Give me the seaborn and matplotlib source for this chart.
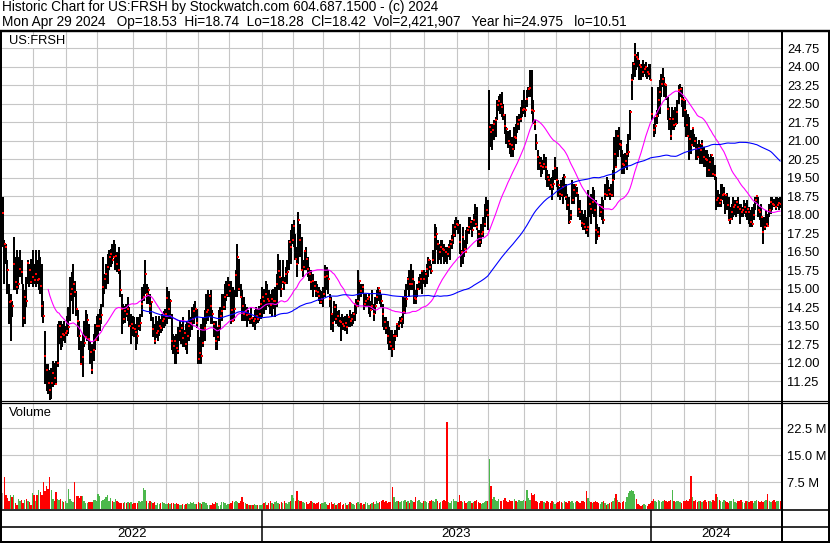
import numpy as np
import pandas as pd
import matplotlib
matplotlib.use("Agg")
import matplotlib.pyplot as plt
import seaborn as sns
from pandas.tseries.holiday import USFederalHolidayCalendar

# daily bars for US:FRSH, 3 May 2022 .. 29 Apr 2024 (one row per month)
high = [
    18.72, 16.97, 16.83, 16.16, 15.21, 14.80, 14.53, 17.10, 16.29, 16.56, 16.29, 16.56, 16.16, 15.21, 14.94, 15.48, 16.16, 16.02, 16.22, 16.56,
    16.02, 16.56, 16.16, 16.56, 16.30, 16.02, 14.50, 13.30, 11.97, 11.97, 11.70, 11.80, 12.10, 12.00, 12.10, 13.59, 13.72, 13.72, 13.59, 13.72, 13.50,
    13.90, 14.26, 15.48, 15.70, 16.02, 15.34, 14.90, 14.13, 13.72, 12.91, 13.18, 13.72, 14.13, 13.99, 13.59, 12.91, 12.78, 13.18, 13.59, 13.90,
    13.99, 14.20, 14.40, 16.29, 15.61, 16.00, 16.43, 16.56, 16.60, 16.83, 16.97, 16.83, 16.50, 16.70, 15.75, 14.80, 14.40, 14.30, 14.40, 14.67, 14.26, 13.99, 13.90,
    13.86, 13.59, 13.86, 13.86, 14.00, 15.07, 15.21, 16.16, 15.21, 15.07, 14.80, 14.53, 13.86, 13.59, 13.90, 13.70, 13.90, 13.80, 14.00, 14.10, 14.20,
    15.07, 14.90, 14.60, 13.99, 13.18, 13.11, 13.18, 13.45, 13.72, 13.59, 13.86, 13.32, 13.59, 13.72, 14.13, 13.86, 14.26, 14.40, 14.53, 14.20,
    13.32, 13.05, 13.59, 13.86, 14.13, 14.80, 14.94, 14.80, 14.94, 14.13, 13.72, 13.72, 13.45, 14.13, 14.26, 14.80, 14.80, 15.21, 15.34, 15.48,
    15.34, 15.34, 15.07, 14.94, 15.75, 16.83, 16.20, 15.21, 14.94, 14.67, 14.40, 14.26, 14.13, 13.99, 14.26, 13.86, 14.13, 14.26, 14.20, 14.30, 14.60,
    15.07, 15.00, 15.34, 15.20, 14.94, 14.80, 14.94, 15.00, 15.07, 15.61, 16.43, 16.16, 15.48, 16.16, 15.48, 15.89, 16.16, 16.97, 17.37, 17.64,
    17.78, 17.24, 16.70, 18.12, 17.64, 17.10, 16.16, 16.56, 16.70, 16.29, 15.89, 15.75, 15.61, 15.34, 15.34, 15.21, 15.07, 14.94, 14.90,
    15.07, 15.95, 15.89, 15.75, 14.80, 14.67, 13.99, 14.53, 14.40, 14.10, 14.13, 13.86, 13.99, 13.86, 13.90, 13.99, 13.86, 14.13, 14.00, 14.06, 14.40, 14.60, 15.75,
    15.34, 15.21, 15.21, 14.80, 14.80, 14.67, 14.80, 14.53, 14.94, 14.40, 14.67, 14.94, 15.07, 14.94, 14.80, 14.40, 13.86, 13.86, 13.72, 13.45,
    13.32, 13.32, 13.18, 13.32, 13.59, 13.72, 13.86, 13.90, 14.67, 14.94, 15.21, 15.48, 15.75, 16.02, 15.75, 15.34, 14.94, 15.21, 15.48, 15.60, 15.75, 15.75,
    15.70, 16.02, 16.29, 16.16, 16.02, 16.56, 17.64, 17.51, 16.97, 16.83, 16.97, 16.97, 16.83, 16.70, 16.70, 16.83, 16.97, 17.20, 17.64, 17.78, 17.91,
    17.78, 17.64, 16.56, 17.51, 16.97, 17.37, 17.51, 17.91, 17.91, 17.78, 18.05, 18.45, 18.32, 17.37, 17.37, 17.64, 17.91, 18.45, 18.72, 18.59,
    23.05, 21.70, 21.70, 21.83, 21.97, 22.64, 22.80, 22.91, 22.98, 22.51, 22.10, 21.56, 21.40, 21.43, 21.16, 21.16, 21.56, 21.70, 22.00, 22.10, 22.37, 22.64, 23.05,
    22.64, 23.05, 23.18, 23.86, 23.86, 22.64, 21.83, 21.29, 20.61, 20.40, 20.35, 20.21, 20.48, 20.35, 19.80, 19.67, 19.50, 19.53, 19.80, 20.35,
    19.94, 19.40, 19.13, 19.40, 19.53, 19.67, 19.26, 18.86, 18.72, 18.18, 19.40, 19.26, 19.26, 19.13, 18.86, 18.59, 18.18, 18.05, 18.18, 17.91, 18.99,
    18.72, 18.86, 19.13, 18.99, 18.59, 17.64, 17.51, 18.45, 18.72, 18.59, 19.26, 19.53, 19.40, 19.13, 19.26, 19.80, 21.16, 21.43, 21.43, 21.56,
    21.02, 20.61, 20.48, 20.50, 20.89, 21.29, 22.24, 23.72, 24.20, 24.97, 24.53, 24.60, 24.26, 24.13, 24.26, 24.13, 24.20, 24.00, 24.13, 24.13,
    23.18, 21.70, 21.97, 22.24, 23.18, 23.45, 23.72, 23.93, 23.59, 23.32, 22.78, 22.37, 21.97, 22.37, 22.24, 22.37, 22.64, 23.25, 23.32, 23.18, 22.78,
    22.64, 22.24, 22.10, 21.97, 21.43, 21.56, 21.29, 21.16, 20.89, 21.02, 20.89, 21.02, 20.75, 20.61, 20.61, 20.48, 20.35, 20.48, 20.35, 20.00,
    19.53, 19.00, 18.86, 19.26, 19.26, 19.13, 18.86, 18.90, 18.72, 18.32, 18.45, 18.72, 18.60, 18.59, 18.72, 18.45, 18.45, 18.32, 18.59, 18.50, 18.59,
    18.32, 18.18, 18.32, 18.45, 18.72, 18.79, 18.72, 18.32, 18.45, 17.91, 17.91, 18.18, 18.05, 18.45, 18.72, 18.72, 18.65, 18.72, 18.72, 18.70, 18.74,
]
low = [
    16.70, 15.21, 16.02, 14.80, 13.59, 12.91, 13.86, 14.94, 14.94, 14.80, 15.01, 15.48, 15.21, 13.45, 13.59, 14.26, 15.21, 15.07, 15.21, 15.07,
    15.21, 15.07, 15.21, 14.94, 14.80, 13.86, 13.60, 11.16, 10.88, 10.75, 10.51, 10.55, 11.02, 11.10, 11.13, 11.82, 12.78, 12.51, 12.64, 12.91, 12.80,
    13.10, 13.18, 13.72, 14.50, 13.99, 14.67, 13.90, 13.05, 12.51, 11.97, 11.43, 12.64, 13.05, 12.91, 12.51, 11.97, 11.56, 12.10, 12.51, 12.90,
    12.91, 13.30, 13.59, 14.26, 14.80, 15.00, 15.21, 15.75, 15.90, 16.02, 16.29, 15.75, 15.70, 15.61, 14.67, 13.18, 13.59, 13.60, 13.86, 13.72, 13.45, 12.78, 13.10,
    13.05, 12.51, 12.78, 13.32, 13.30, 13.86, 14.53, 14.80, 14.40, 14.40, 13.99, 13.72, 13.05, 12.78, 13.00, 12.90, 13.10, 13.20, 13.30, 13.40, 13.50,
    13.59, 13.80, 13.80, 12.51, 12.37, 11.97, 11.97, 12.37, 12.91, 12.78, 12.64, 12.64, 12.51, 12.37, 12.91, 13.05, 13.32, 13.59, 13.86, 13.40,
    11.97, 11.97, 11.97, 12.64, 12.91, 13.59, 13.72, 13.86, 13.59, 13.59, 13.05, 12.51, 12.51, 12.91, 13.32, 13.72, 14.13, 14.13, 14.53, 14.67,
    14.67, 13.59, 13.72, 13.72, 14.67, 14.67, 14.90, 14.67, 13.72, 13.72, 13.72, 13.45, 13.72, 13.59, 13.59, 13.45, 13.32, 13.59, 13.60, 13.70, 13.80,
    13.86, 14.00, 14.13, 14.30, 14.26, 13.99, 13.86, 14.20, 13.86, 14.26, 14.94, 14.94, 14.67, 15.21, 14.94, 15.21, 15.21, 15.75, 16.02, 16.83,
    16.70, 16.16, 15.48, 16.02, 16.29, 15.75, 15.48, 15.75, 15.75, 15.48, 15.34, 14.94, 14.67, 14.94, 14.67, 14.67, 14.53, 14.40, 14.40,
    14.26, 14.67, 14.94, 14.80, 14.26, 13.32, 13.25, 13.72, 13.59, 13.50, 13.45, 12.91, 13.32, 13.32, 13.30, 13.18, 13.45, 13.45, 13.50, 13.59, 13.72, 14.00, 14.26,
    14.53, 14.67, 14.80, 14.13, 14.26, 14.26, 13.99, 13.86, 14.13, 13.72, 13.99, 14.40, 14.53, 14.40, 14.26, 13.45, 13.32, 13.18, 12.78, 12.51,
    12.51, 12.24, 12.51, 12.91, 13.05, 13.32, 13.59, 13.40, 13.59, 13.99, 14.26, 14.94, 14.67, 14.94, 14.94, 14.40, 14.40, 14.67, 14.94, 15.00, 14.80, 15.21,
    15.07, 15.21, 15.48, 15.75, 15.61, 16.02, 16.02, 16.56, 16.02, 16.16, 16.02, 16.29, 16.02, 16.10, 16.02, 16.29, 16.16, 16.60, 16.83, 17.10, 17.37,
    17.24, 16.43, 15.89, 16.02, 16.29, 16.56, 16.83, 17.24, 17.37, 17.10, 17.51, 17.51, 17.37, 16.70, 16.70, 16.83, 17.10, 17.51, 17.91, 17.37,
    19.80, 20.75, 20.61, 21.02, 21.16, 21.83, 22.20, 22.10, 21.97, 21.83, 21.29, 20.89, 20.70, 20.48, 20.35, 20.35, 20.61, 20.89, 21.30, 21.43, 21.76, 21.97, 22.10,
    21.97, 22.37, 22.78, 22.78, 22.10, 21.70, 21.43, 20.61, 19.80, 19.80, 19.53, 19.67, 19.80, 19.40, 19.13, 19.13, 19.00, 18.59, 18.99, 19.40,
    19.13, 18.72, 18.59, 18.72, 18.45, 18.72, 18.59, 18.18, 17.64, 17.78, 18.45, 18.45, 18.72, 18.72, 17.91, 17.78, 17.51, 17.37, 17.37, 17.24, 17.10,
    17.91, 17.64, 18.05, 17.91, 16.83, 16.97, 17.10, 17.91, 17.78, 17.64, 18.59, 18.72, 18.72, 18.59, 18.72, 18.72, 19.40, 19.94, 20.35, 20.61,
    20.35, 19.67, 19.67, 19.90, 19.80, 20.35, 21.02, 22.64, 23.45, 23.59, 23.86, 24.00, 23.45, 23.45, 23.59, 23.72, 23.59, 23.50, 23.59, 23.45,
    21.83, 21.16, 21.29, 21.70, 21.97, 22.10, 22.78, 23.18, 22.78, 22.64, 21.83, 21.43, 21.02, 21.43, 21.43, 21.56, 21.70, 22.51, 22.78, 22.37, 21.97,
    21.56, 21.16, 21.16, 20.21, 20.48, 20.89, 20.75, 20.21, 20.21, 20.35, 20.07, 20.07, 19.94, 19.94, 19.53, 19.53, 19.53, 19.53, 19.53, 19.40,
    18.18, 18.30, 18.32, 18.32, 18.59, 18.45, 18.05, 18.20, 17.78, 17.64, 17.78, 17.91, 18.00, 17.91, 18.05, 17.64, 17.91, 17.91, 18.05, 17.90, 17.78,
    17.64, 17.51, 17.51, 17.78, 18.18, 18.45, 17.91, 17.78, 17.51, 16.83, 17.37, 17.51, 17.51, 17.91, 18.05, 18.18, 18.32, 18.18, 18.32, 18.20, 18.28,
]
close = [
    18.07, 16.83, 16.70, 15.75, 14.47, 14.51, 14.30, 16.02, 15.28, 15.07, 15.20, 15.82, 15.68, 13.83, 14.67, 14.51, 16.06, 15.75, 15.28, 15.48,
    15.35, 15.60, 15.35, 15.40, 15.10, 14.30, 13.90, 12.30, 11.70, 11.18, 10.89, 11.20, 11.60, 11.40, 11.15, 11.99, 13.48, 13.05, 13.18, 13.14, 13.20,
    13.30, 13.45, 14.80, 15.00, 15.21, 14.87, 14.20, 13.72, 13.11, 11.97, 12.24, 12.80, 13.05, 13.75, 12.98, 12.44, 11.70, 12.51, 12.95, 13.50,
    13.51, 13.80, 13.93, 15.07, 15.41, 15.60, 15.89, 16.29, 16.40, 16.16, 16.29, 16.33, 16.00, 15.78, 14.94, 14.18, 13.80, 14.10, 13.99, 14.20, 13.48, 13.59, 13.40,
    13.39, 13.25, 13.10, 13.50, 13.60, 14.40, 14.67, 15.61, 14.80, 14.94, 14.30, 14.47, 13.39, 12.91, 13.20, 13.30, 13.50, 13.40, 13.70, 13.80, 14.00,
    14.63, 14.20, 14.50, 12.90, 12.70, 12.91, 12.60, 12.48, 13.30, 13.41, 13.00, 13.21, 12.78, 13.10, 13.50, 13.63, 13.80, 14.10, 14.20, 13.60,
    12.17, 12.40, 12.30, 12.80, 13.40, 14.06, 14.16, 14.70, 14.30, 14.00, 13.56, 12.91, 13.05, 13.50, 13.89, 14.10, 14.26, 14.67, 14.74, 15.14,
    14.90, 14.13, 13.72, 14.20, 15.56, 16.30, 15.01, 14.67, 14.30, 14.00, 14.10, 13.93, 14.00, 13.80, 13.83, 13.70, 13.78, 13.90, 13.80, 14.00, 14.40,
    14.67, 14.50, 14.80, 14.60, 14.50, 14.33, 14.60, 14.50, 14.53, 15.20, 15.71, 15.50, 15.01, 15.27, 15.24, 15.60, 15.68, 16.89, 16.70, 16.97,
    17.56, 16.22, 16.00, 17.78, 17.00, 15.78, 15.90, 16.53, 16.20, 15.79, 15.60, 15.28, 15.32, 15.10, 14.90, 14.87, 14.70, 14.47, 14.60,
    14.80, 15.48, 15.52, 15.41, 14.60, 13.99, 13.60, 14.26, 13.80, 13.90, 13.72, 13.68, 13.59, 13.50, 13.60, 13.45, 13.86, 13.70, 13.80, 13.99, 14.40, 14.30, 14.53,
    15.33, 14.90, 15.06, 14.40, 14.50, 14.60, 14.67, 14.13, 14.30, 13.99, 14.30, 14.67, 15.03, 14.90, 14.50, 13.99, 13.66, 13.40, 13.10, 12.85,
    12.70, 12.58, 13.09, 13.10, 13.59, 13.50, 13.70, 13.80, 14.06, 14.67, 14.59, 15.41, 15.20, 15.21, 15.40, 14.63, 14.60, 15.00, 15.30, 15.40, 15.71, 15.41,
    15.61, 15.80, 16.16, 15.90, 15.72, 16.16, 17.10, 17.24, 16.83, 16.50, 16.70, 16.60, 16.56, 16.50, 16.40, 16.70, 16.80, 17.00, 17.20, 17.51, 17.64,
    17.57, 16.90, 16.49, 17.10, 16.63, 16.49, 17.37, 17.51, 17.71, 17.40, 17.80, 17.64, 17.51, 17.24, 16.90, 17.24, 17.30, 17.64, 18.18, 18.00,
    21.56, 21.36, 21.43, 21.70, 21.86, 22.44, 22.60, 22.51, 22.37, 22.03, 21.60, 21.47, 21.00, 20.89, 20.82, 20.66, 21.16, 21.13, 21.70, 21.83, 21.90, 22.24, 22.30,
    22.24, 22.70, 23.10, 23.12, 22.24, 22.20, 21.70, 20.91, 20.35, 20.10, 19.97, 19.94, 20.05, 19.94, 19.53, 19.40, 19.20, 19.13, 19.26, 19.91,
    19.40, 19.20, 18.86, 18.82, 19.13, 19.53, 18.72, 18.40, 17.71, 18.00, 18.59, 18.99, 19.20, 18.90, 18.25, 18.12, 17.67, 17.64, 17.51, 17.37, 17.51,
    18.45, 18.25, 18.52, 18.18, 17.37, 17.30, 17.13, 18.12, 18.32, 17.78, 18.86, 18.80, 19.00, 18.86, 18.79, 19.40, 20.48, 19.94, 21.18, 20.89,
    20.85, 20.07, 20.00, 20.20, 20.48, 20.55, 22.17, 23.45, 24.13, 24.47, 24.40, 24.30, 24.06, 23.99, 23.79, 23.90, 23.99, 23.80, 23.70, 23.48,
    22.10, 21.43, 21.60, 22.00, 22.64, 22.98, 23.32, 23.52, 23.29, 23.25, 22.30, 21.90, 21.18, 21.90, 21.63, 21.67, 22.17, 23.05, 23.09, 22.71, 22.64,
    22.24, 21.63, 21.20, 21.09, 20.82, 21.50, 21.00, 20.68, 20.35, 20.72, 20.61, 20.89, 20.35, 20.28, 20.21, 19.80, 20.14, 20.41, 19.67, 19.60,
    18.59, 18.70, 18.50, 18.59, 18.80, 18.86, 18.79, 18.40, 17.78, 17.85, 18.12, 18.32, 18.40, 18.52, 18.30, 18.25, 18.12, 18.18, 18.30, 18.10, 18.25,
    18.12, 17.71, 17.64, 17.98, 18.59, 18.75, 18.18, 18.12, 17.91, 17.30, 17.51, 17.64, 17.53, 18.18, 18.52, 18.45, 18.38, 18.30, 18.41, 18.50, 18.42,
]
# millions of shares
volume = [
    4.5, 9.0, 4.0, 3.1, 2.2, 4.0, 3.5, 4.0, 1.7, 1.2, 2.9, 2.4, 2.7, 1.7, 2.7, 2.9, 2.2, 2.0, 1.2, 4.6,
    3.9, 2.4, 4.0, 5.4, 4.8, 4.0, 7.6, 5.2, 6.6, 5.7, 9.1, 5.4, 2.9, 2.4, 4.8, 2.9, 2.7, 2.9, 2.4, 2.0, 2.2,
    1.7, 5.6, 2.9, 2.2, 2.0, 7.6, 3.8, 3.8, 3.1, 3.8, 3.8, 2.2, 1.7, 1.7, 2.0, 2.0, 2.0, 2.7, 2.7, 2.4,
    4.2, 3.8, 2.4, 2.7, 2.9, 3.3, 4.0, 2.4, 3.1, 2.4, 2.0, 2.9, 2.4, 2.0, 1.7, 1.7, 1.7, 2.0, 1.7, 2.0, 1.7, 1.9, 1.6,
    1.7, 1.7, 1.7, 2.2, 2.0, 2.4, 5.9, 5.4, 2.4, 1.7, 2.4, 2.0, 1.7, 2.0, 1.2, 1.7, 1.4, 1.7, 2.0, 1.7, 1.5,
    1.4, 1.7, 1.4, 1.7, 1.7, 1.4, 1.7, 1.4, 1.2, 1.2, 1.4, 1.2, 1.4, 1.7, 1.4, 2.0, 1.7, 2.0, 1.4, 1.6,
    2.0, 1.7, 1.4, 2.0, 2.0, 1.7, 1.2, 1.2, 1.2, 1.7, 1.4, 2.0, 1.7, 1.0, 1.2, 2.0, 2.0, 1.7, 1.2, 1.5,
    1.4, 1.7, 2.4, 2.0, 2.4, 2.0, 1.7, 2.4, 3.3, 2.0, 1.7, 1.4, 1.2, 1.2, 1.2, 1.2, 1.4, 1.2, 1.2, 1.3, 1.1,
    1.4, 1.7, 2.0, 1.2, 1.7, 2.2, 1.7, 1.4, 2.0, 2.4, 1.7, 1.4, 2.0, 1.7, 2.2, 1.7, 1.4, 2.0, 2.4, 3.9,
    3.1, 2.4, 5.0, 2.7, 2.2, 2.4, 2.0, 1.7, 2.0, 1.4, 1.7, 2.4, 2.0, 1.7, 1.4, 1.7, 2.0, 1.4, 1.7,
    1.7, 2.0, 1.4, 1.2, 1.7, 2.0, 1.4, 1.7, 1.2, 1.4, 1.7, 2.0, 1.2, 1.4, 1.7, 1.2, 1.4, 2.0, 1.7, 1.4, 1.2, 1.7, 2.0,
    1.4, 1.7, 1.2, 1.4, 2.0, 1.7, 1.2, 1.4, 1.7, 2.0, 1.4, 2.2, 1.7, 2.0, 2.4, 2.7, 2.0, 2.2, 1.7, 2.0,
    2.0, 6.2, 3.5, 2.0, 2.4, 2.2, 2.0, 2.4, 2.2, 2.7, 2.0, 2.2, 1.7, 2.7, 2.2, 2.0, 3.5, 2.4, 2.7, 2.0, 1.7, 2.2,
    2.4, 2.0, 1.7, 2.2, 2.7, 2.4, 2.0, 3.0, 2.4, 1.7, 2.0, 2.2, 2.7, 2.4, 24.2, 2.0, 1.7, 2.4, 3.0, 2.2, 2.4,
    2.0, 4.0, 2.4, 2.0, 2.2, 1.7, 2.0, 2.4, 2.2, 1.7, 2.0, 2.4, 2.7, 2.0, 1.7, 1.4, 1.7, 2.0, 2.4, 2.2,
    14.0, 6.4, 3.0, 3.5, 2.7, 2.4, 3.0, 2.4, 2.2, 2.7, 3.1, 2.4, 2.0, 2.7, 2.4, 2.2, 3.0, 2.4, 2.0, 2.7, 2.2, 2.4, 2.7,
    2.4, 5.5, 3.1, 2.7, 4.6, 4.0, 4.3, 2.4, 2.0, 1.7, 2.2, 2.4, 2.0, 1.7, 2.4, 2.0, 1.7, 2.2, 2.0, 1.4,
    1.7, 2.0, 2.4, 2.0, 1.7, 2.2, 2.0, 1.7, 2.4, 2.0, 2.2, 1.7, 2.0, 2.4, 2.0, 1.7, 2.2, 2.4, 2.0, 5.1, 3.1,
    2.4, 2.0, 1.7, 2.0, 2.4, 2.0, 1.7, 1.4, 2.0, 2.2, 1.7, 1.2, 1.4, 1.7, 2.0, 2.4, 3.1, 4.3, 2.7, 2.0,
    1.7, 2.0, 2.4, 2.0, 3.5, 4.5, 5.0, 5.4, 5.2, 4.2, 3.0, 1.4, 1.2, 1.0, 1.2, 1.4, 1.2, 1.0, 1.4, 1.7,
    2.4, 3.0, 2.4, 2.0, 2.7, 2.4, 2.0, 2.2, 2.7, 2.4, 2.0, 2.2, 2.7, 5.3, 2.4, 2.0, 2.2, 2.4, 2.0, 1.7, 2.4,
    2.2, 2.7, 2.4, 3.0, 9.4, 3.5, 2.4, 2.7, 2.0, 2.4, 2.2, 2.0, 2.4, 2.7, 2.0, 2.2, 2.4, 2.0, 2.7, 2.4,
    4.3, 3.5, 2.7, 2.4, 2.0, 2.7, 2.4, 2.0, 1.7, 2.2, 2.4, 3.0, 2.0, 1.7, 2.2, 2.4, 2.7, 2.0, 1.7, 2.4, 2.2,
    2.0, 2.4, 2.2, 1.7, 2.4, 2.7, 2.2, 2.0, 2.4, 2.0, 2.2, 2.7, 4.3, 2.4, 2.0, 2.2, 2.7, 2.0, 2.4, 2.2, 2.42,
]

price_ticks = [11.25, 12.00, 12.75, 13.50, 14.25, 15.00, 15.75, 16.50, 17.25, 18.00,
               18.75, 19.50, 20.25, 21.00, 21.75, 22.50, 23.25, 24.00, 24.75]
vol_ticks = [7.5, 15.0, 22.5]
vol_labels = ["7.5 M", "15.0 M", "22.5 M"]

title1 = "Historic Chart for US:FRSH by Stockwatch.com 604.687.1500 - (c) 2024"
title2 = ("Mon Apr 29 2024   Op=18.53  Hi=18.74  Lo=18.28  Cl=18.42  "
          "Vol=2,421,907   Year hi=24.975   lo=10.51")

n = len(close)
bday = pd.offsets.CustomBusinessDay(calendar=USFederalHolidayCalendar())
df = pd.DataFrame({
    "date": pd.date_range(end="2024-04-29", periods=n, freq=bday),
    "high": high, "low": low, "close": close, "volume": volume,
})
df["i"] = np.arange(n)
df["ma_fast"] = df["close"].rolling(30).mean()
df["ma_slow"] = df["close"].rolling(90).mean()
chg = df["close"].diff()
df["vcol"] = np.where(chg > 0, "#4cb84c", np.where(chg < 0, "#ff0000", "#a0a0a0"))

prev = df["date"].shift()
month_edges = df.index[df["date"].dt.month != prev.dt.month][1:] - 0.5
year_first = df.index[df["date"].dt.year != prev.dt.year]
year_edges = list(year_first - 0.5) + [n - 0.5]
years = df["date"].dt.year[year_first].tolist()

sns.set_theme(style="white")
plt.rcParams["font.family"] = ["Liberation Sans", "DejaVu Sans"]

W, H = 830, 543
fig = plt.figure(figsize=(W / 100, H / 100), dpi=100)


def box(x0, y0, x1, y1):
    return [x0 / W, 1 - y1 / H, (x1 - x0) / W, (y1 - y0) / H]


grid_col = "#c6c6c6"
ax = fig.add_axes(box(2, 31.7, 781, 400.5))
axv = fig.add_axes(box(2, 403, 781, 509.3))
axy = fig.add_axes(box(2, 510, 781, 541.5))

# price panel
ax.vlines(df["i"], df["low"], df["high"], color="black", lw=1.15, antialiased=False, zorder=2)
ax.scatter(df["i"] + 0.3, df["close"], marker="s", s=1.6, color="red", linewidths=0, zorder=3)
sns.lineplot(data=df, x="i", y="ma_fast", ax=ax, color="#ff00ff", lw=0.8, zorder=4)
sns.lineplot(data=df, x="i", y="ma_slow", ax=ax, color="#0000ff", lw=0.8, zorder=4)
ax.set_xlim(-0.5, n - 0.5)
ax.set_ylim(10.48, 25.42)
ax.set_yticks(price_ticks, [f"{t:.2f}" for t in price_ticks])

# volume panel
axv.bar(df["i"], df["volume"], width=0.9, color=df["vcol"], linewidth=0,
        antialiased=False, zorder=2)
axv.set_xlim(-0.5, n - 0.5)
axv.set_ylim(0, 29.6)
axv.set_yticks(vol_ticks, vol_labels)

for a in (ax, axv):
    a.yaxis.tick_right()
    a.set_xticks(month_edges)
    a.set_xticklabels([])
    a.tick_params(length=0, labelsize=9.3, pad=4.2, labelcolor="black")
    a.grid(True, color=grid_col, lw=0.8)
    a.set_axisbelow(True)
    a.set_xlabel("")
    a.set_ylabel("")
    for s in a.spines.values():
        s.set_visible(False)

# year strip
axy.set_xlim(-0.5, n - 0.5)
axy.set_ylim(0, 1)
axy.axis("off")
for e in year_edges[1:-1]:
    axy.axvline(e, color="black", lw=1.1)
for k, yr in enumerate(years):
    axy.text((year_edges[k] + year_edges[k + 1]) / 2, 0.225, str(yr),
             ha="center", va="center", fontsize=9.5, color="black")

# frame and header on a pixel overlay
ov = fig.add_axes([0, 0, 1, 1])
ov.set_xlim(0, W)
ov.set_ylim(H, 0)
ov.axis("off")
ov.patch.set_alpha(0)


def hline(y, px):
    ov.plot([0, W], [y, y], color="black", lw=px * 0.72, solid_capstyle="butt")


def vline(x, px):
    ov.plot([x, x], [29.5, 542.5], color="black", lw=px * 0.72, solid_capstyle="butt")


hline(30.5, 2.4)
hline(400.7, 1.2)
hline(403, 1.2)
hline(510, 1.6)
hline(527.3, 1.6)
hline(541.6, 2)
vline(1, 2)
vline(781.7, 2)
vline(828.5, 2)

ov.text(2, 10.6, title1, fontsize=9.8, va="baseline", ha="left", color="black")
ov.text(2, 26.3, title2, fontsize=9.8, va="baseline", ha="left", color="black")
ov.text(9, 41.5, "US:FRSH", fontsize=9.3, va="center", ha="left", color="black",
        bbox=dict(fc="white", ec="none", pad=0.6))
ov.text(9, 413, "Volume", fontsize=9.3, va="center", ha="left", color="black")

fig.savefig("out.png", dpi=100)
